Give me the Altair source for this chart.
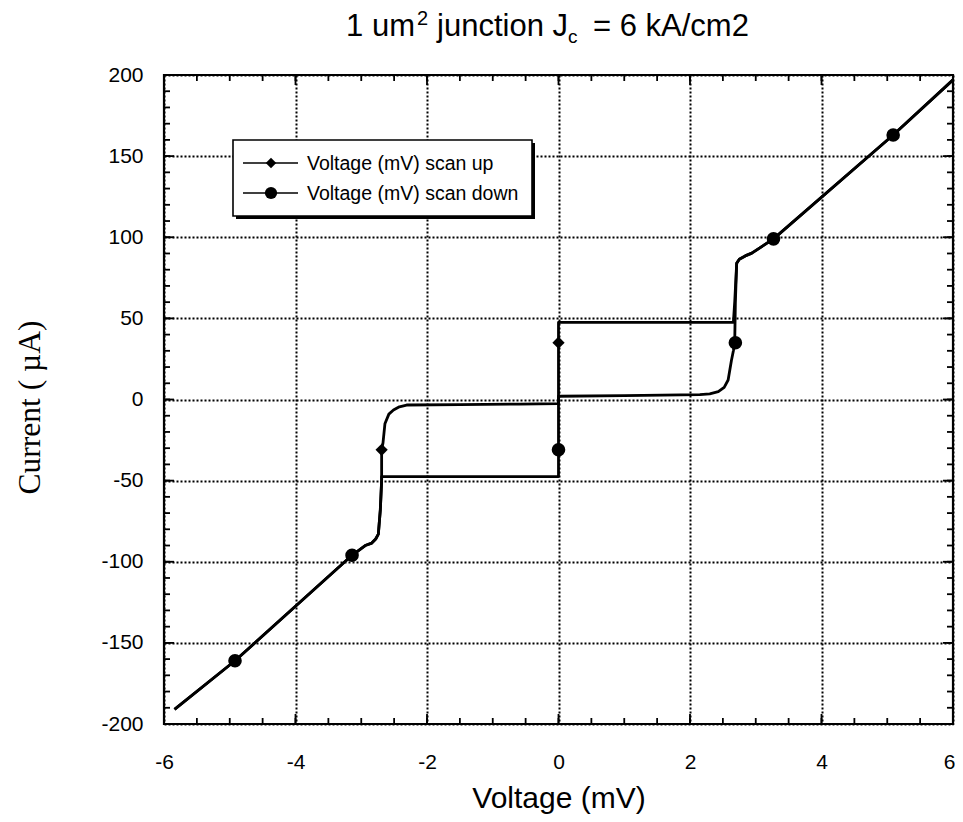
import altair as alt
import pandas as pd

# ---------------- data ----------------
up_v = [-5.84, -4.92, -3.14, -2.94, -2.84, -2.78, -2.74, -2.71, -2.69, -2.69,
        -2.67, -2.64, -2.58, -2.51, -2.42, -2.31, -1.5, -0.6, 0.0, 0.0,
        0.0, 2.66, 2.68, 2.71, 2.75, 2.84, 2.94, 3.27, 5.09, 6.0]
up_i = [-191, -161, -96, -90, -88.5, -86, -83, -68, -50, -31,
        -27, -15, -9, -6.5, -4.5, -3.4, -3.1, -2.8, -2.6, 35,
        47.5, 47.5, 60, 84, 86.5, 88.5, 90.2, 99, 163, 197]

down_v = [6.0, 5.09, 3.27, 2.94, 2.84, 2.75, 2.71, 2.69, 2.68, 2.66,
          2.63, 2.58, 2.52, 2.43, 2.30, 2.15, 1.0, 0.0, 0.0, 0.0,
          -2.69, -2.69, -2.71, -2.74, -2.78, -2.84, -2.94, -3.14, -4.92, -5.84]
down_i = [197, 163, 99, 90.2, 88.5, 86.5, 84, 60, 35, 30,
          24, 12, 7.5, 4.8, 3.5, 3.0, 2.4, 2.0, -31, -47.5,
          -47.5, -50, -68, -83, -86, -88.5, -90, -96, -161, -191]

up_mark_v = [0.0, -2.69]
up_mark_i = [35, -31]
down_mark_v = [5.09, 3.27, 2.69, 0.0, -3.14, -4.92]
down_mark_i = [163, 99, 35, -31, -96, -161]

series_names = ["Voltage (mV) scan up", "Voltage (mV) scan down"]

x_major = [-6, -4, -2, 0, 2, 4, 6]
y_major = [-200, -150, -100, -50, 0, 50, 100, 150, 200]
x_minor = [k / 2 for k in range(-12, 13)]
y_minor = list(range(-200, 201, 10))

title_parts = ["1 um", "2", "junction J", "c", "= 6 kA/cm2"]
x_title = "Voltage (mV)"
y_title = "Current  ( \u00b5A)"

# ---------------- layout ----------------
W, H = 789, 649
FONT = "Liberation Sans"

xs = alt.Scale(domain=[-6, 6], nice=False, zero=False)
ys = alt.Scale(domain=[-200, 200], nice=False, zero=False)

x_axis = alt.Axis(values=x_major, title=x_title, grid=True, gridDash=[2, 2],
                  gridColor="black", gridWidth=2, gridOpacity=1, domain=False,
                  ticks=False, tickSize=0, labelPadding=27, labelFontSize=21,
                  labelFont=FONT, labelColor="black", labelFlush=False,
                  labelOffset={"condition": {"test": "datum.value == 6", "value": -4},
                               "value": 0},
                  labelExpr="'' + datum.value",
                  titleFont=FONT, titleFontSize=30, titleFontWeight="normal",
                  titleColor="black", titleY=83, titleBaseline="alphabetic")
y_axis = alt.Axis(values=y_major, title=y_title, grid=True, gridDash=[2, 2],
                  gridColor="black", gridWidth=2, gridOpacity=1, domain=False,
                  ticks=False, tickSize=0, labelPadding=21, labelFontSize=21,
                  labelFont=FONT, labelColor="black", labelFlush=False,
                  labelExpr="'' + datum.value",
                  titleFont="Liberation Serif", titleFontSize=31.5,
                  titleFontWeight="normal", titleColor="black",
                  titleX=-134, titleY=332, titleAngle=270,
                  titleAlign="center", titleBaseline="middle")

X = lambda f: alt.X(f, type="quantitative", scale=xs, axis=x_axis)
Y = lambda f: alt.Y(f, type="quantitative", scale=ys, axis=y_axis)

line_df = pd.DataFrame({
    "v": up_v + down_v,
    "i": up_i + down_i,
    "series": [series_names[0]] * len(up_v) + [series_names[1]] * len(down_v),
    "idx": list(range(len(up_v))) + list(range(len(down_v))),
})

lines = alt.Chart(line_df).mark_line(color="black", strokeWidth=2.8,
                                     strokeJoin="round").encode(
    x=X("v"), y=Y("i"), detail="series:N", order="idx:Q")

up_pts = alt.Chart(pd.DataFrame({"v": up_mark_v, "i": up_mark_i})).mark_point(
    shape="diamond", filled=True, color="black", opacity=1, size=150).encode(
    x=X("v"), y=Y("i"))
down_pts = alt.Chart(pd.DataFrame({"v": down_mark_v, "i": down_mark_i})).mark_point(
    shape="circle", filled=True, color="black", opacity=1, size=185).encode(
    x=X("v"), y=Y("i"))


def ticks(vals, side, length):
    c = alt.Chart(pd.DataFrame({"t": vals})).mark_rule(color="black", strokeWidth=1.8)
    if side == "bottom":
        return c.encode(x=X("t"), y=alt.value(H), y2=alt.value(H - length))
    if side == "top":
        return c.encode(x=X("t"), y=alt.value(0), y2=alt.value(length))
    if side == "left":
        return c.encode(y=Y("t"), x=alt.value(0), x2=alt.value(length))
    return c.encode(y=Y("t"), x=alt.value(W), x2=alt.value(W - length))


tick_layers = []
for side in ["bottom", "top"]:
    tick_layers.append(ticks(x_minor, side, 6))
    tick_layers.append(ticks(x_major, side, 10))
for side in ["left", "right"]:
    tick_layers.append(ticks(y_minor, side, 6))
    tick_layers.append(ticks(y_major, side, 10))

one = pd.DataFrame({"a": [0]})

# legend box (shadow + box)
leg_shadow = alt.Chart(one).mark_rect(color="black").encode(
    x=alt.value(72), x2=alt.value(371), y=alt.value(68), y2=alt.value(144))
leg_box = alt.Chart(one).mark_rect(fill="white", stroke="black", strokeWidth=1.6).encode(
    x=alt.value(69), x2=alt.value(368), y=alt.value(65), y2=alt.value(141))

leg_layers = [leg_shadow, leg_box]
for row_y, shape, sz, label in [(88, "diamond", 110, series_names[0]),
                                (118, "circle", 150, series_names[1])]:
    leg_layers.append(alt.Chart(one).mark_rule(color="black", strokeWidth=1.6).encode(
        x=alt.value(79), x2=alt.value(134), y=alt.value(row_y)))
    leg_layers.append(alt.Chart(one).mark_point(shape=shape, filled=True, color="black",
                                                opacity=1, size=sz).encode(
        x=alt.value(107), y=alt.value(row_y)))
    leg_layers.append(alt.Chart(one).mark_text(font=FONT, fontSize=19.5, color="black",
                                               align="left", baseline="middle").encode(
        x=alt.value(143), y=alt.value(row_y + 1), text=alt.value(label)))


# title pieces: normal text, superscript "2", subscript "c"
def title_text(txt, x, y, size, align):
    return alt.Chart(one).mark_text(font=FONT, fontSize=size, color="black", align=align,
                                    baseline="alphabetic").encode(
        x=alt.value(x), y=alt.value(y), text=alt.value(txt))


title_layers = [
    title_text(title_parts[0], 251, -39, 31, "right"),
    title_text(title_parts[1], 253, -50, 20, "left"),
    title_text(title_parts[2], 404, -39, 31, "right"),
    title_text(title_parts[3], 404, -32, 19, "left"),
    title_text(title_parts[4], 429, -39, 31, "left"),
]

chart = alt.layer(lines, up_pts, down_pts, *tick_layers, *leg_layers, *title_layers).properties(
    width=W, height=H,
    autosize=alt.AutoSizeParams(type="none"),
    padding={"left": 156, "top": 67, "right": 2, "bottom": 90},
    background="white",
).configure_view(stroke="black", strokeWidth=2.2)

chart.save("out.html", embed_options={"renderer": "svg", "actions": False})
